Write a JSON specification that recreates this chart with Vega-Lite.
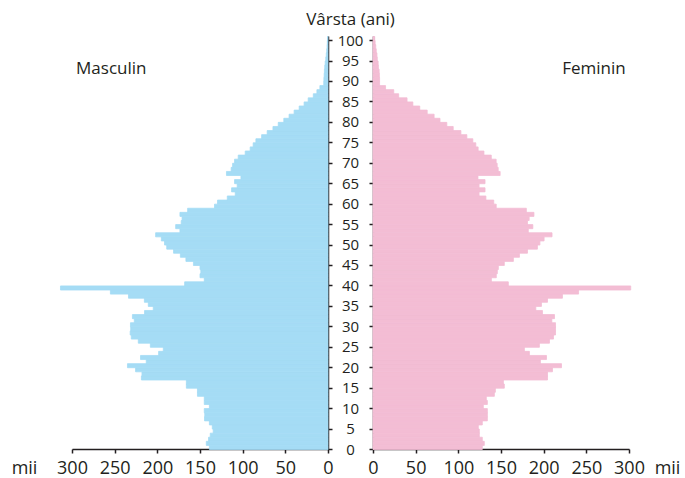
{
  "$schema": "https://vega.github.io/schema/vega-lite/v6.json",
  "background": "white",
  "padding": {"left": 11, "top": 10, "right": 0, "bottom": 0},
  "config": {
    "font": "Open Sans",
    "view": {"stroke": null},
    "axis": {
      "domainColor": "#231f20", "tickColor": "#231f20", "domainWidth": 1.5, "tickWidth": 1.5,
      "labelColor": "#231f20", "titleColor": "#231f20", "labelFont": "Open Sans", "titleFont": "Open Sans",
      "titleFontWeight": "normal", "grid": false, "labelOverlap": false, "labelFlush": false
    }
  },
  "datasets": {
    "pop": [
      {"age":0,"m":139,"f":128.1},{"age":1,"m":142.6,"f":130.4},{"age":2,"m":140,"f":128.1},{"age":3,"m":138,"f":124.6},{"age":4,"m":134.5,"f":124.6},
      {"age":5,"m":135.6,"f":123.4},{"age":6,"m":139,"f":128.1},{"age":7,"m":144.7,"f":134},{"age":8,"m":144.4,"f":134},{"age":9,"m":145,"f":134},
      {"age":10,"m":139,"f":129.3},{"age":11,"m":145,"f":134},{"age":12,"m":145,"f":132.8},{"age":13,"m":153,"f":142.2},{"age":14,"m":153,"f":143.4},
      {"age":15,"m":166,"f":153.9},{"age":16,"m":166,"f":152.8},{"age":17,"m":218.7,"f":204.5},{"age":18,"m":218,"f":204.5},{"age":19,"m":225.5,"f":210.3},
      {"age":20,"m":235,"f":220.9},{"age":21,"m":213,"f":196.2},{"age":22,"m":219.7,"f":203.3},{"age":23,"m":198.5,"f":183.3},{"age":24,"m":193,"f":177.4},
      {"age":25,"m":208.2,"f":195},{"age":26,"m":222.3,"f":206.8},{"age":27,"m":230.5,"f":211.5},{"age":28,"m":231.8,"f":213.9},{"age":29,"m":231.2,"f":213.9},
      {"age":30,"m":231.5,"f":213.9},{"age":31,"m":227,"f":209.6},{"age":32,"m":229.2,"f":212.7},{"age":33,"m":215,"f":198.6},{"age":34,"m":204.8,"f":190.8},
      {"age":35,"m":210.6,"f":197.4},{"age":36,"m":215.2,"f":204.5},{"age":37,"m":233.8,"f":222},{"age":38,"m":255,"f":240.9},{"age":39,"m":313.5,"f":302},
      {"age":40,"m":168,"f":158.6},{"age":41,"m":145,"f":138.7},{"age":42,"m":150,"f":144.5},{"age":43,"m":149,"f":145.7},{"age":44,"m":150,"f":146.9},
      {"age":45,"m":157.7,"f":153.9},{"age":46,"m":166.5,"f":164.5},{"age":47,"m":173,"f":171.6},{"age":48,"m":181,"f":181},{"age":49,"m":189,"f":192.7},
      {"age":50,"m":191.6,"f":195.6},{"age":51,"m":195.3,"f":200.5},{"age":52,"m":202,"f":209.8},{"age":53,"m":173.5,"f":182},{"age":54,"m":178.5,"f":187.3},
      {"age":55,"m":172,"f":181},{"age":56,"m":171,"f":183},{"age":57,"m":173.5,"f":188.6},{"age":58,"m":164.5,"f":179.7},{"age":59,"m":133,"f":144.4},
      {"age":60,"m":129.5,"f":141.5},{"age":61,"m":118,"f":132.3},{"age":62,"m":108.7,"f":124.3},{"age":63,"m":113,"f":131.3},{"age":64,"m":106.4,"f":124.3},
      {"age":65,"m":109.5,"f":131.3},{"age":66,"m":102,"f":123},{"age":67,"m":119,"f":149},{"age":68,"m":113.5,"f":146.7},{"age":69,"m":111.8,"f":145.5},
      {"age":70,"m":109.5,"f":144.3},{"age":71,"m":105.2,"f":138.6},{"age":72,"m":97,"f":130},{"age":73,"m":91.2,"f":123.2},{"age":74,"m":87.7,"f":120.5},
      {"age":75,"m":84.5,"f":117},{"age":76,"m":77.8,"f":110},{"age":77,"m":71.3,"f":103},{"age":78,"m":64.5,"f":94},{"age":79,"m":58.3,"f":86.5},
      {"age":80,"m":51.8,"f":78.5},{"age":81,"m":45.6,"f":71.6},{"age":82,"m":39.7,"f":63.5},{"age":83,"m":33.8,"f":54.8},{"age":84,"m":28,"f":46.7},
      {"age":85,"m":23.2,"f":39.9},{"age":86,"m":17.2,"f":30.1},{"age":87,"m":13,"f":24.3},{"age":88,"m":9.5,"f":14.7},{"age":89,"m":5,"f":7.7},
      {"age":90,"m":4.8,"f":7.7},{"age":91,"m":4.5,"f":7.5},{"age":92,"m":4.2,"f":7.2},{"age":93,"m":3.8,"f":6.3},{"age":94,"m":3.3,"f":6},
      {"age":95,"m":2.6,"f":5},{"age":96,"m":2,"f":4.6},{"age":97,"m":1.5,"f":3.8},{"age":98,"m":1.1,"f":3.2},{"age":99,"m":0.8,"f":2.5},
      {"age":100,"m":0.6,"f":2}
    ]
  },
  "data": {"name": "pop"},
  "spacing": 45,
  "bounds": "flush",
  "hconcat": [
    {
      "width": 256,
      "height": 413,
      "layer": [
        {
          "mark": {"type": "bar", "binSpacing": 0, "color": "#a5dcf5", "stroke": "#a5dcf5", "strokeWidth": 0.8},
          "encoding": {
            "y": {
              "field": "age", "type": "quantitative", "bin": {"step": 1, "extent": [0, 101]},
              "scale": {"domain": [0, 101], "nice": false, "zero": false},
              "axis": {"orient": "right", "title": "Vârsta (ani)", "titleAngle": 0, "titleX": 22, "titleY": -12,
                       "titleAlign": "center", "titleBaseline": "alphabetic", "titleFontSize": 17,
                       "values": [0,5,10,15,20,25,30,35,40,45,50,55,60,65,70,75,80,85,90,95,100],
                       "labelAlign": "center", "labelPadding": 18, "labelFontSize": 15, "tickSize": 4}
            },
            "x": {
              "field": "m", "type": "quantitative", "scale": {"domain": [0, 300], "reverse": true, "nice": false},
              "axis": {"values": [0,50,100,150,200,250,300], "title": "mii", "titleX": -48, "titleY": 24,
                       "titleAlign": "center", "titleBaseline": "alphabetic", "titleFontSize": 18,
                       "labelFontSize": 18, "tickSize": 4, "labelPadding": 6}
            }
          }
        },
        {
          "data": {"values": [{"label": "Masculin"}]},
          "mark": {"type": "text", "fontSize": 17, "color": "#231f20", "font": "Open Sans", "align": "center", "baseline": "middle"},
          "encoding": {
            "text": {"field": "label"},
            "x": {"datum": 254},
            "y": {"datum": 93}
          }
        }
      ]
    },
    {
      "width": 256,
      "height": 413,
      "layer": [
        {
          "mark": {"type": "bar", "binSpacing": 0, "color": "#f3bdd4", "stroke": "#f3bdd4", "strokeWidth": 0.8},
          "encoding": {
            "y": {
              "field": "age", "type": "quantitative", "bin": {"step": 1, "extent": [0, 101]},
              "scale": {"domain": [0, 101], "nice": false, "zero": false},
              "axis": {"orient": "left", "title": null, "values": [0,5,10,15,20,25,30,35,40,45,50,55,60,65,70,75,80,85,90,95,100],
                       "labels": false, "tickSize": 4}
            },
            "x": {
              "field": "f", "type": "quantitative", "scale": {"domain": [0, 300], "nice": false},
              "axis": {"values": [0,50,100,150,200,250,300], "title": "mii", "titleX": 294, "titleY": 24,
                       "titleAlign": "center", "titleBaseline": "alphabetic", "titleFontSize": 18,
                       "labelFontSize": 18, "tickSize": 4, "labelPadding": 6}
            }
          }
        },
        {
          "data": {"values": [{"label": "Feminin"}]},
          "mark": {"type": "text", "fontSize": 17, "color": "#231f20", "font": "Open Sans", "align": "center", "baseline": "middle"},
          "encoding": {
            "text": {"field": "label"},
            "x": {"datum": 259},
            "y": {"datum": 93}
          }
        }
      ]
    }
  ]
}
